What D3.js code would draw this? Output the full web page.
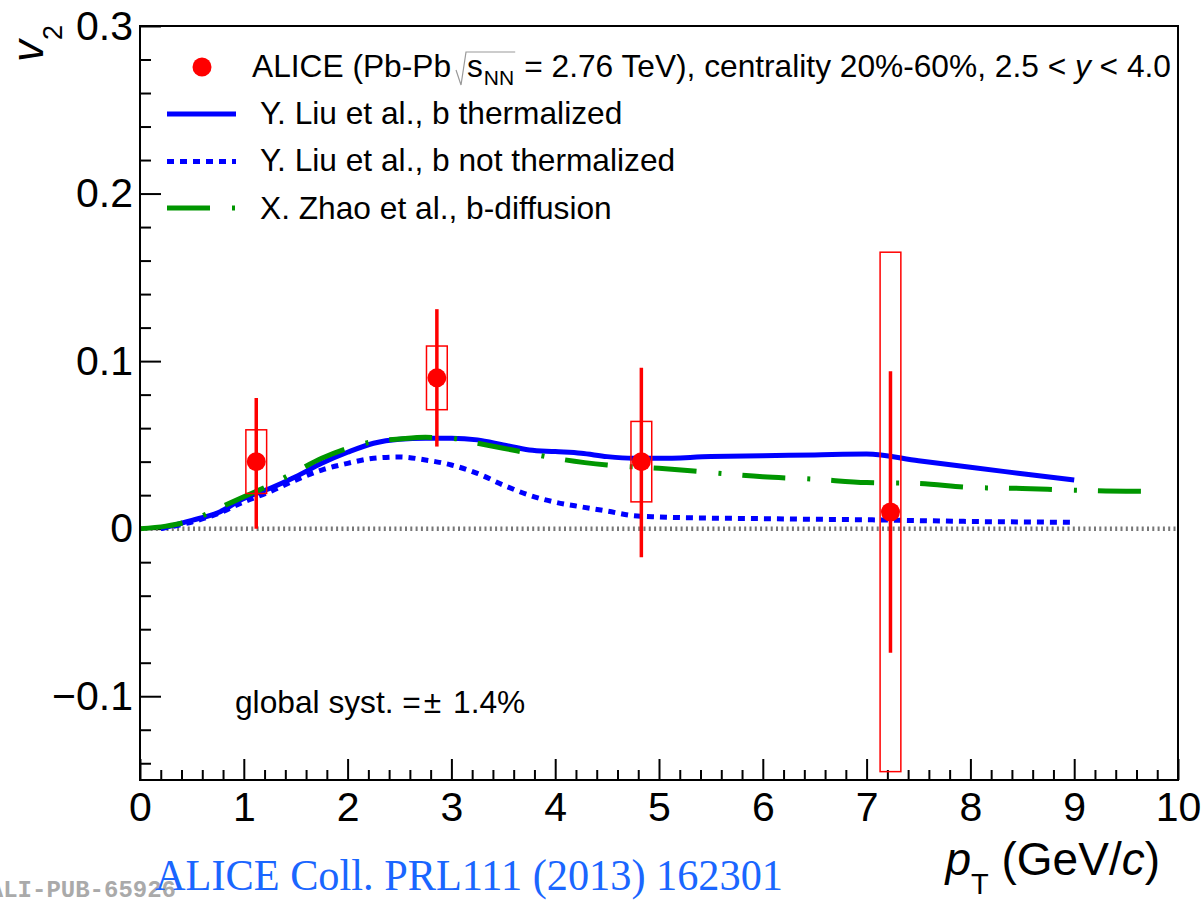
<!DOCTYPE html>
<html>
<head>
<meta charset="utf-8">
<script src="https://cdn.jsdelivr.net/npm/d3@7"></script>
<style>
  body { margin: 0; background: #fff; }
  svg { display: block; font-family: "Liberation Sans", Arial, sans-serif; }
</style>
</head>
<body>
<div id="chart"></div>
<script>
// ALICE measurement
const ptData = [1.12, 2.86, 4.83, 7.23];
const v2Data = [0.040, 0.090, 0.040, 0.010];
const statLow = [0.000, 0.049, -0.017, -0.074];
const statHigh = [0.078, 0.131, 0.096, 0.094];
const systLow = [0.021, 0.071, 0.016, -0.145];
const systHigh = [0.059, 0.109, 0.064, 0.165];

// Y. Liu et al., b thermalized
const liuThermPt = [0.2, 0.5, 0.75, 1.0, 1.25, 1.5, 1.75, 2.0, 2.25, 2.5, 2.75, 3.0, 3.25, 3.5, 3.75, 4.0, 4.25, 4.5, 4.75, 5.0, 5.5, 6.0, 6.5, 7.0, 7.5, 8.0, 8.5, 9.0];
const liuThermV2 = [0, 0.005, 0.0095, 0.018, 0.024, 0.031, 0.039, 0.0456, 0.051, 0.0534, 0.054, 0.054, 0.053, 0.050, 0.047, 0.046, 0.045, 0.043, 0.042, 0.042, 0.043, 0.0435, 0.044, 0.0445, 0.0405, 0.0366, 0.0328, 0.029];

// Y. Liu et al., b not thermalized
const liuNoThermPt = [0.2, 0.5, 0.75, 1.0, 1.25, 1.5, 1.75, 2.0, 2.25, 2.5, 2.75, 3.0, 3.25, 3.5, 3.75, 4.0, 4.25, 4.5, 4.75, 5.0, 5.5, 6.0, 6.5, 7.0, 7.5, 8.0, 8.5, 9.0];
const liuNoThermV2 = [0, 0.004, 0.009, 0.016, 0.022, 0.029, 0.035, 0.039, 0.042, 0.0428, 0.041, 0.038, 0.033, 0.026, 0.020, 0.0158, 0.013, 0.0105, 0.0078, 0.007, 0.0063, 0.006, 0.0056, 0.0053, 0.0048, 0.0043, 0.004, 0.0038];

// X. Zhao et al., b-diffusion
const zhaoPt = [0, 0.25, 0.5, 0.75, 1.0, 1.25, 1.5, 1.75, 2.0, 2.25, 2.5, 2.75, 3.0, 3.25, 3.5, 3.75, 4.0, 4.5, 5.0, 5.5, 6.0, 6.5, 7.0, 7.5, 8.0, 8.5, 9.0, 9.5, 9.7];
const zhaoV2 = [0, 0.0015, 0.005, 0.012, 0.019, 0.026, 0.034, 0.042, 0.048, 0.052, 0.0535, 0.0545, 0.054, 0.051, 0.048, 0.045, 0.042, 0.038, 0.036, 0.0335, 0.031, 0.0295, 0.0275, 0.027, 0.0246, 0.024, 0.023, 0.0224, 0.0224];

const xTicks = [0, 1, 2, 3, 4, 5, 6, 7, 8, 9, 10];
const yTicks = [-0.1, 0, 0.1, 0.2, 0.3];

const W = 1202, H = 900;
const m = { left: 140, right: 1178, top: 26, bottom: 780 };
const font = '"Liberation Sans", Arial, sans-serif';

const x = d3.scaleLinear().domain([0, 10]).range([m.left, m.right]);
const y = d3.scaleLinear().domain([-0.15, 0.3]).range([m.bottom, m.top]);

const svg = d3.select('#chart').append('svg')
  .attr('width', W)
  .attr('height', H);

svg.append('rect').attr('width', W).attr('height', H).attr('fill', '#fff');

// axes, ticks pointing into the frame
svg.append('g')
  .attr('transform', `translate(0,${m.bottom})`)
  .call(d3.axisBottom(x).tickValues(xTicks).tickSize(-21).tickPadding(12).tickFormat(d3.format('d')));
svg.append('g')
  .attr('transform', `translate(0,${m.bottom})`)
  .call(d3.axisBottom(x).tickValues(x.ticks(50).filter(d => !xTicks.includes(d))).tickSize(-10).tickFormat(''));

svg.append('g')
  .attr('transform', `translate(${m.left},0)`)
  .call(d3.axisLeft(y).tickValues(yTicks).tickSize(-21).tickPadding(7)
    .tickFormat(d => d === 0 ? '0' : d3.format('.1f')(d)));
svg.append('g')
  .attr('transform', `translate(${m.left},0)`)
  .call(d3.axisLeft(y).tickValues(d3.range(-0.14, 0.3, 0.02).filter(d => Math.abs(Math.round(d * 10) - d * 10) > 0.01)).tickSize(-11).tickFormat(''));

svg.selectAll('.domain').remove();
svg.selectAll('.tick line').attr('stroke', '#000').attr('stroke-width', 2);
svg.selectAll('.tick text').attr('font-size', 41).attr('font-family', font).attr('fill', '#000');

// zero line
svg.append('line')
  .attr('x1', x(0)).attr('x2', x(10))
  .attr('y1', y(0)).attr('y2', y(0))
  .attr('stroke', '#777')
  .attr('stroke-width', 4.5)
  .attr('stroke-dasharray', '2,3.3');

// model curves
const line = d3.line()
  .x(d => x(d[0]))
  .y(d => y(d[1]))
  .curve(d3.curveMonotoneX);

svg.append('path')
  .datum(d3.zip(liuThermPt, liuThermV2))
  .attr('fill', 'none')
  .attr('stroke', '#0000ff')
  .attr('stroke-width', 5)
  .attr('d', line);

svg.append('path')
  .datum(d3.zip(liuNoThermPt, liuNoThermV2))
  .attr('fill', 'none')
  .attr('stroke', '#0000ff')
  .attr('stroke-width', 5)
  .attr('stroke-dasharray', '7,6')
  .attr('d', line);

svg.append('path')
  .datum(d3.zip(zhaoPt, zhaoV2))
  .attr('fill', 'none')
  .attr('stroke', '#009600')
  .attr('stroke-width', 5)
  .attr('stroke-dasharray', '43,22,3,21')
  .attr('d', line);

// ALICE points
const pts = d3.range(ptData.length);

svg.selectAll('rect.syst')
  .data(pts)
  .join('rect')
  .attr('class', 'syst')
  .attr('x', i => x(ptData[i] - 0.1))
  .attr('width', i => x(ptData[i] + 0.1) - x(ptData[i] - 0.1))
  .attr('y', i => y(systHigh[i]))
  .attr('height', i => y(systLow[i]) - y(systHigh[i]))
  .attr('fill', 'none')
  .attr('stroke', '#ff0000')
  .attr('stroke-width', 1.5);

svg.selectAll('line.stat')
  .data(pts)
  .join('line')
  .attr('class', 'stat')
  .attr('x1', i => x(ptData[i]))
  .attr('x2', i => x(ptData[i]))
  .attr('y1', i => y(statLow[i]))
  .attr('y2', i => y(statHigh[i]))
  .attr('stroke', '#ff0000')
  .attr('stroke-width', 3.5);

svg.selectAll('circle.pt')
  .data(pts)
  .join('circle')
  .attr('class', 'pt')
  .attr('cx', i => x(ptData[i]))
  .attr('cy', i => y(v2Data[i]))
  .attr('r', 9.5)
  .attr('fill', '#ff0000');

// frame
svg.append('rect')
  .attr('x', m.left).attr('y', m.top)
  .attr('width', m.right - m.left).attr('height', m.bottom - m.top)
  .attr('fill', 'none')
  .attr('stroke', '#000')
  .attr('stroke-width', 2);

// legend
const leg = svg.append('g').attr('font-size', 31.7).attr('font-family', font).attr('fill', '#000');

leg.append('circle').attr('cx', 202).attr('cy', 67).attr('r', 9.5).attr('fill', '#ff0000');

const t1 = leg.append('text').attr('x', 252).attr('y', 77).text('ALICE (Pb-Pb');
const radX = 252 + t1.node().getComputedTextLength() + 5;
const sT = leg.append('text').attr('x', radX + 11).attr('y', 77).text('s');
let sx = radX + 11 + sT.node().getComputedTextLength() + 1;
const nnT = leg.append('text').attr('x', sx).attr('y', 85).attr('font-size', 21).text('NN');
sx += nnT.node().getComputedTextLength();
leg.append('path')
  .attr('d', `M${radX},70 L${radX + 5},85 L${radX + 10},52 L${sx + 1},52`)
  .attr('fill', 'none')
  .attr('stroke', '#999')
  .attr('stroke-width', 1.2);
const t2 = leg.append('text').attr('x', sx + 10).attr('y', 77);
t2.append('tspan').text('= 2.76 TeV), centrality 20%-60%, 2.5 < ');
t2.append('tspan').attr('font-style', 'italic').text('y');
t2.append('tspan').text(' < 4.0');

const legLines = [
  { label: 'Y. Liu et al., b thermalized', dash: null, color: '#0000ff', cy: 114, by: 123.5 },
  { label: 'Y. Liu et al., b not thermalized', dash: '7,6', color: '#0000ff', cy: 161.5, by: 171 },
  { label: 'X. Zhao et al., b-diffusion', dash: '43,22,3,21', color: '#009600', cy: 208, by: 219 }
];
legLines.forEach(d => {
  leg.append('line')
    .attr('x1', 167).attr('x2', 236)
    .attr('y1', d.cy).attr('y2', d.cy)
    .attr('stroke', d.color)
    .attr('stroke-width', 5)
    .attr('stroke-dasharray', d.dash);
  leg.append('text').attr('x', 260).attr('y', d.by).text(d.label);
});

// global syst
const gs = svg.append('text')
  .attr('x', 235).attr('y', 713)
  .attr('font-size', 31.7).attr('font-family', font);
gs.append('tspan').text('global syst. =');
gs.append('tspan').attr('dx', 3).text('±');
gs.append('tspan').attr('dx', 3).text(' 1.4%');

// axis titles
const yl = svg.append('text')
  .attr('transform', 'translate(43,62) rotate(-90)')
  .attr('font-size', 44).attr('font-family', font);
yl.append('tspan').attr('font-style', 'italic').text('v');
yl.append('tspan').attr('font-size', 27).attr('dy', 19).text('2');

const xl = svg.append('text')
  .attr('x', 1160).attr('y', 875)
  .attr('text-anchor', 'end')
  .attr('font-size', 46).attr('font-family', font);
xl.append('tspan').attr('font-style', 'italic').text('p');
xl.append('tspan').attr('font-size', 29).attr('dy', 19).text('T');
xl.append('tspan').attr('dy', -19).text(' (GeV/');
xl.append('tspan').attr('font-style', 'italic').text('c');
xl.append('tspan').text(')');

// watermark and reference
svg.append('text')
  .attr('x', 176).attr('y', 897)
  .attr('text-anchor', 'end')
  .attr('font-size', 24).attr('font-weight', 'bold')
  .attr('font-family', '"Liberation Mono", "DejaVu Sans Mono", monospace')
  .attr('fill', '#aaa')
  .text('ALI-PUB-65926');

svg.append('text')
  .attr('x', 155).attr('y', 890)
  .attr('font-size', 45)
  .attr('textLength', 628)
  .attr('lengthAdjust', 'spacingAndGlyphs')
  .attr('font-family', '"Liberation Serif", "Times New Roman", serif')
  .attr('fill', '#1a66ff')
  .text('ALICE Coll. PRL111 (2013) 162301');
</script>
</body>
</html>
